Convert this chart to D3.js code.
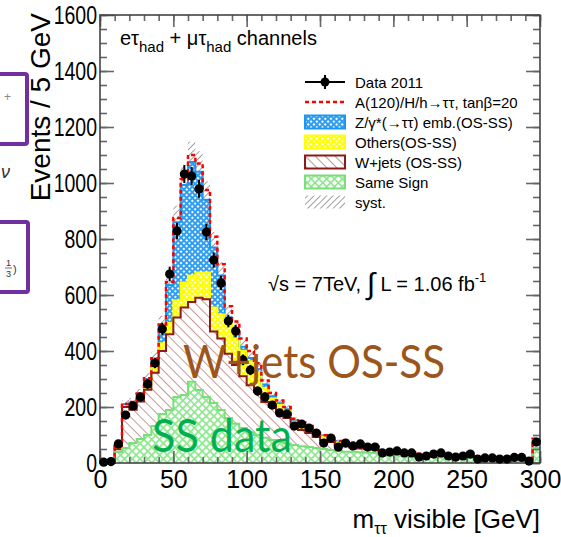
<!DOCTYPE html>
<html>
<head>
<meta charset="utf-8">
<script src="https://cdn.jsdelivr.net/npm/d3@7"></script>
<style>
  body { margin: 0; background: #fff; }
  svg { display: block; }
</style>
</head>
<body>
<svg id="chart" width="561" height="537"></svg>
<script>
// Visible mass, 5 GeV bins from 0 to 300 GeV (last bin includes overflow)
const binLow = d3.range(0, 300, 5);

const sameSign = [0,0,39,54,71,86,100,132,175,189,236,243,290,261,236,214,189,161,140,125,110,100,90,82,75,70,64,60,57,54,50,46,43,40,40,38,37,36,30,28,27,26,24,22,21,21,20,19,18,18,17,16,15,15,14,14,13,13,12,54];
const wjets    = [0,0,10,146,119,134,162,190,225,271,284,312,285,329,349,256,256,229,210,185,168,154,128,118,104,91,65,58,50,39,32,29,21,20,15,14,13,12,8,8,8,7,7,6,6,6,6,5,5,5,4,2,3,2,2,2,2,2,2,20];
const others   = [0,0,3,4,8,10,15,20,28,40,60,90,95,90,95,85,85,110,95,90,85,70,50,30,28,25,18,17,16,15,12,10,10,9,8,8,7,7,5,5,5,4,4,3,3,3,3,3,2,2,2,2,2,2,2,2,2,2,1,8];
const ztautau  = [0,2,8,6,18,16,23,28,62,136,280,348,405,360,260,215,140,20,25,15,12,12,12,8,6,6,5,5,5,4,3,3,3,2,2,2,2,2,1,1,1,1,1,1,1,1,0,0,0,0,0,0,0,0,0,0,0,0,0,3];
const signal   = [0,0,1,1,2,2,3,4,5,10,15,20,25,30,35,38,40,40,35,30,25,20,15,12,10,8,6,5,4,3,2,2,2,1,1,1,1,1,1,1,1,1,1,1,1,1,1,1,1,1,1,0,0,0,0,0,0,0,0,2];
const systErr  = [0,0,5,15,16,18,22,27,35,45,60,70,72,73,66,55,48,38,34,30,27,24,20,17,15,14,11,10,9,8,7,6,6,5,5,5,4,4,3,3,3,3,3,2,2,2,2,2,2,2,2,2,2,2,1,1,1,1,1,7];
const data2011 = [3,5,68,171,204,236,282,357,479,675,829,1032,1025,979,825,725,643,507,471,368,332,257,236,207,179,175,132,139,125,107,71,89,57,71,61,68,57,57,36,39,43,36,36,21,25,32,36,25,21,25,32,14,18,18,14,14,20,20,7,75];

const xTickValues = [0, 50, 100, 150, 200, 250, 300];
const xMinorValues = d3.range(0, 301, 10);
const yTickValues = [0, 200, 400, 600, 800, 1000, 1200, 1400, 1600];
const yMinorValues = d3.range(0, 1601, 50);

const legendLabels = [
  "Data 2011",
  "A(120)/H/h\u2192\u03c4\u03c4, tan\u03b2=20",
  "Z/\u03b3*(\u2192\u03c4\u03c4) emb.(OS-SS)",
  "Others(OS-SS)",
  "W+jets (OS-SS)",
  "Same Sign",
  "syst."
];

const svg = d3.select("#chart");
const FONT = "'Liberation Sans', Arial, Helvetica, sans-serif";

const x = d3.scaleLinear().domain([0, 300]).range([100, 540]);
const y = d3.scaleLinear().domain([0, 1600]).range([463, 15]);

// ---------- fill patterns ----------
const defs = svg.append("defs");
function gridPattern(id, color, size, hole) {
  const p = defs.append("pattern").attr("id", id)
    .attr("patternUnits", "userSpaceOnUse")
    .attr("width", size).attr("height", size)
    .attr("patternTransform", "rotate(45)");
  p.append("rect").attr("width", size).attr("height", size).attr("fill", color);
  p.append("rect").attr("x", (size - hole) / 2).attr("y", (size - hole) / 2)
    .attr("width", hole).attr("height", hole).attr("fill", "#fff");
}
gridPattern("pat-z", "#2f9ef0", 4, 2.0);
gridPattern("pat-oth", "#ffff00", 4, 2.0);
gridPattern("pat-ss", "#8ee88e", 5.5, 3.8);

function linePattern(id, color, spacing, angle, width) {
  const p = defs.append("pattern").attr("id", id)
    .attr("patternUnits", "userSpaceOnUse")
    .attr("width", spacing).attr("height", spacing)
    .attr("patternTransform", `rotate(${angle})`);
  p.append("rect").attr("width", spacing).attr("height", spacing).attr("fill", "none");
  p.append("line").attr("x1", 0).attr("y1", 0).attr("x2", 0).attr("y2", spacing)
    .attr("stroke", color).attr("stroke-width", width);
}
// W+jets: lines falling left-to-right, syst: lines rising left-to-right
linePattern("pat-w", "#a8605a", 7, -45, 1.3);
linePattern("pat-syst", "#555", 4.5, 45, 1.1);

// ---------- stacked backgrounds ----------
const rows = binLow.map((lo, i) => ({
  lo, ss: sameSign[i], w: wjets[i], oth: others[i], z: ztautau[i]
}));
const keys = ["ss", "w", "oth", "z"];
const stacked = d3.stack().keys(keys)(rows);
const style = {
  ss:  { fill: "url(#pat-ss)",  stroke: "#79e079" },
  w:   { fill: "url(#pat-w)",   stroke: "#8b1a1a" },
  oth: { fill: "url(#pat-oth)", stroke: "#ffff00" },
  z:   { fill: "url(#pat-z)",   stroke: "#1e96ee" }
};

function stepPoints(layer) {
  const pts = layer.map(d => ({ x: d.data.lo, y0: d[0], y1: d[1] }));
  const last = pts[pts.length - 1];
  pts.push({ x: 300, y0: last.y0, y1: last.y1 });
  return pts;
}
const area = d3.area().x(d => x(d.x)).y0(d => y(d.y0)).y1(d => y(d.y1)).curve(d3.curveStepAfter);
const topLine = d3.line().x(d => x(d.x)).y(d => y(d.y1)).curve(d3.curveStepAfter);

const totals = binLow.map((lo, i) => sameSign[i] + wjets[i] + others[i] + ztautau[i]);

// systematic band (only its upper half stays visible above the opaque stack)
const systPts = binLow.map((lo, i) => ({ x: lo, y0: totals[i] - systErr[i], y1: totals[i] + systErr[i] }));
systPts.push({ x: 300, y0: systPts[systPts.length - 1].y0, y1: systPts[systPts.length - 1].y1 });
svg.append("path").datum(systPts).attr("d", area).attr("fill", "url(#pat-syst)");

const plot = svg.append("g");
stacked.forEach(layer => {
  const pts = stepPoints(layer);
  plot.append("path").datum(pts).attr("d", area).attr("fill", "#fff");
  plot.append("path").datum(pts).attr("d", area).attr("fill", style[layer.key].fill);
});
// outlines: upper cumulative first, lower ones drawn over it
stacked.slice().reverse().forEach(layer => {
  plot.append("path").datum(stepPoints(layer)).attr("d", topLine)
    .attr("fill", "none").attr("stroke", style[layer.key].stroke).attr("stroke-width", 2);
});

// signal on top of the background sum
const sigPts = binLow.map((lo, i) => ({ x: lo, y1: totals[i] + signal[i] }));
sigPts.push({ x: 300, y1: sigPts[sigPts.length - 1].y1 });
svg.append("path").datum(sigPts).attr("d", topLine)
  .attr("fill", "none").attr("stroke", "#ff0000").attr("stroke-width", 2.5)
  .attr("stroke-dasharray", "4,3");

// ---------- axes ----------
function styleAxis(g) {
  g.select(".domain").remove();
  g.selectAll("line").attr("stroke", "#666").attr("stroke-width", 1.6);
}
const intFmt = d3.format("d");
svg.append("g").attr("transform", "translate(0,463)")
  .call(d3.axisBottom(x).tickValues(xMinorValues).tickSizeInner(-6).tickSizeOuter(0).tickFormat(""))
  .call(styleAxis);
svg.append("g").attr("transform", "translate(0,463)")
  .call(d3.axisBottom(x).tickValues(xTickValues).tickSizeInner(-12).tickSizeOuter(0).tickPadding(7).tickFormat(intFmt))
  .call(styleAxis)
  .call(g => g.selectAll("text").attr("font-family", FONT).attr("font-size", 25).attr("fill", "#000"));
svg.append("g").attr("transform", "translate(0,15)")
  .call(d3.axisTop(x).tickValues(xMinorValues).tickSizeInner(-6).tickSizeOuter(0).tickFormat(""))
  .call(styleAxis);
svg.append("g").attr("transform", "translate(0,15)")
  .call(d3.axisTop(x).tickValues(xTickValues).tickSizeInner(-12).tickSizeOuter(0).tickFormat(""))
  .call(styleAxis);

svg.append("g").attr("transform", "translate(100,0)")
  .call(d3.axisLeft(y).tickValues(yMinorValues).tickSizeInner(-7).tickSizeOuter(0).tickFormat(""))
  .call(styleAxis);
svg.append("g").attr("transform", "translate(100,0)")
  .call(d3.axisLeft(y).tickValues(yTickValues).tickSizeInner(-14).tickSizeOuter(0).tickPadding(3).tickFormat(intFmt))
  .call(styleAxis)
  .call(g => g.selectAll("text").attr("font-family", FONT).attr("font-size", 25).attr("fill", "#000")
    .attr("transform", "scale(0.78,1)").attr("x", -3 / 0.78));
svg.append("g").attr("transform", "translate(540,0)")
  .call(d3.axisRight(y).tickValues(yMinorValues).tickSizeInner(-7).tickSizeOuter(0).tickFormat(""))
  .call(styleAxis);
svg.append("g").attr("transform", "translate(540,0)")
  .call(d3.axisRight(y).tickValues(yTickValues).tickSizeInner(-14).tickSizeOuter(0).tickFormat(""))
  .call(styleAxis);

// frame
svg.append("rect").attr("x", x(0)).attr("y", y(1600))
  .attr("width", x(300) - x(0)).attr("height", y(0) - y(1600))
  .attr("fill", "none").attr("stroke", "#444").attr("stroke-width", 1.6);

// ---------- data points ----------
const dataG = svg.append("g");
binLow.forEach((lo, i) => {
  const v = data2011[i];
  const err = Math.sqrt(v);
  const cx = x(lo + 2.5);
  dataG.append("line").attr("x1", x(lo)).attr("x2", x(lo + 5)).attr("y1", y(v)).attr("y2", y(v))
    .attr("stroke", "#000").attr("stroke-width", 2);
  dataG.append("line").attr("x1", cx).attr("x2", cx).attr("y1", y(v - err)).attr("y2", y(v + err))
    .attr("stroke", "#000").attr("stroke-width", 2);
  dataG.append("circle").attr("cx", cx).attr("cy", y(v)).attr("r", 4.6).attr("fill", "#000");
});

// ---------- legend ----------
const leg = svg.append("g").attr("font-family", FONT).attr("font-size", 15);
legendLabels.forEach((label, i) => {
  const cy = 82 + i * 20;
  const g = leg.append("g");
  if (i === 0) {
    g.append("line").attr("x1", 305).attr("x2", 345).attr("y1", cy).attr("y2", cy).attr("stroke", "#000").attr("stroke-width", 2);
    g.append("line").attr("x1", 325).attr("x2", 325).attr("y1", cy - 7).attr("y2", cy + 7).attr("stroke", "#000").attr("stroke-width", 2);
    g.append("circle").attr("cx", 325).attr("cy", cy).attr("r", 4.5).attr("fill", "#000");
  } else if (i === 1) {
    g.append("line").attr("x1", 305).attr("x2", 345).attr("y1", cy).attr("y2", cy)
      .attr("stroke", "#ff0000").attr("stroke-width", 2.5).attr("stroke-dasharray", "4,3");
  } else if (i === 6) {
    g.append("rect").attr("x", 305).attr("y", cy - 6.5).attr("width", 40).attr("height", 13).attr("fill", "url(#pat-syst)");
  } else {
    const k = ["z", "oth", "w", "ss"][i - 2];
    g.append("rect").attr("x", 305).attr("y", cy - 6.5).attr("width", 40).attr("height", 13).attr("fill", "#fff");
    g.append("rect").attr("x", 305).attr("y", cy - 6.5).attr("width", 40).attr("height", 13)
      .attr("fill", style[k].fill).attr("stroke", style[k].stroke).attr("stroke-width", 2);
  }
  g.append("text").attr("x", 355).attr("y", cy + 5.5).text(label);
});

// ---------- annotations ----------
const ch = svg.append("text").attr("x", 120).attr("y", 45).attr("font-family", FONT).attr("font-size", 20);
ch.append("tspan").text("e\u03c4");
ch.append("tspan").attr("font-size", 15).attr("dy", 7).text("had");
ch.append("tspan").attr("dy", -7).text(" + \u03bc\u03c4");
ch.append("tspan").attr("font-size", 15).attr("dy", 7).text("had");
ch.append("tspan").attr("dy", -7).text(" channels");

const lumi = svg.append("text").attr("x", 268).attr("y", 291).attr("font-family", FONT).attr("font-size", 20);
lumi.append("tspan").text("\u221as = 7TeV, ");
lumi.append("tspan").attr("font-size", 30).attr("dy", 3).text("\u222b");
lumi.append("tspan").attr("dy", -3).text(" L = 1.06 fb");
lumi.append("tspan").attr("font-size", 13).attr("dy", -9).text("-1");

const xt = svg.append("text").attr("x", 540).attr("y", 528).attr("text-anchor", "end")
  .attr("font-family", FONT).attr("font-size", 26);
xt.append("tspan").text("m");
xt.append("tspan").attr("font-size", 16).attr("dy", 6).text("\u03c4\u03c4");
xt.append("tspan").attr("dy", -6).text(" visible [GeV]");

svg.append("text").attr("transform", "translate(50,13) rotate(-90)").attr("text-anchor", "end")
  .attr("font-family", FONT).attr("font-size", 28).text("Events / 5 GeV");

// slide annotations
svg.append("text").attr("x", 183).attr("y", 378).attr("font-family", "Lato, 'Open Sans', sans-serif")
  .attr("font-size", 46).attr("fill", "#9c561c").attr("textLength", 262).attr("lengthAdjust", "spacingAndGlyphs")
  .text("W+jets OS-SS");
svg.append("text").attr("x", 152).attr("y", 452).attr("font-family", "Lato, 'Open Sans', sans-serif")
  .attr("font-size", 46).attr("fill", "#00b050").attr("textLength", 140).attr("lengthAdjust", "spacingAndGlyphs")
  .text("SS data");

// neighbouring slide boxes at the left edge
const side = svg.append("g");
side.append("rect").attr("x", -10).attr("y", 74).attr("width", 37).attr("height", 70).attr("rx", 2)
  .attr("fill", "none").attr("stroke", "#7030a0").attr("stroke-width", 4);
side.append("rect").attr("x", -10).attr("y", 222).attr("width", 38).attr("height", 70).attr("rx", 2)
  .attr("fill", "none").attr("stroke", "#7030a0").attr("stroke-width", 4);
side.append("text").attr("x", 4).attr("y", 101).attr("font-family", FONT).attr("font-size", 12).attr("fill", "#888").text("+");
side.append("text").attr("x", 1).attr("y", 178).attr("font-family", FONT).attr("font-size", 18).attr("font-style", "italic").attr("fill", "#333").text("\u03bd");
side.append("text").attr("x", 6).attr("y", 266).attr("font-family", FONT).attr("font-size", 9).attr("fill", "#333").text("1");
side.append("line").attr("x1", 5).attr("x2", 12).attr("y1", 268).attr("y2", 268).attr("stroke", "#333").attr("stroke-width", 0.7);
side.append("text").attr("x", 6).attr("y", 277).attr("font-family", FONT).attr("font-size", 9).attr("fill", "#333").text("3");
side.append("text").attr("x", 13).attr("y", 273).attr("font-family", FONT).attr("font-size", 11).attr("fill", "#333").text(")");
</script>
</body>
</html>
